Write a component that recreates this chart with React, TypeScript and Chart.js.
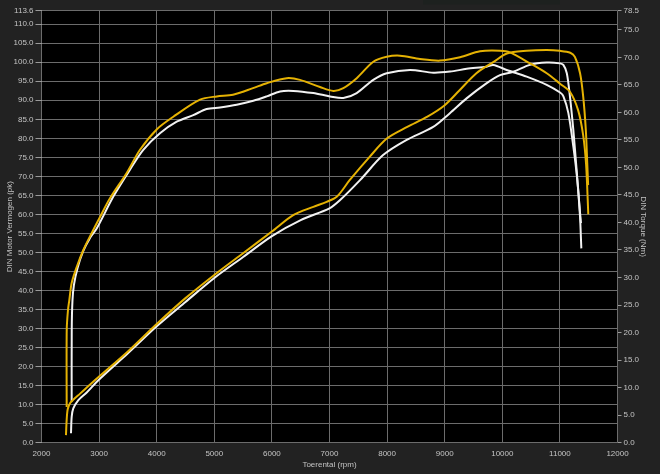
import React, { useEffect, useRef } from "react";
import { Chart, registerables } from "chart.js";

Chart.register(...registerables);

// ---- tick labels ----
const rpmTicks = [2000, 3000, 4000, 5000, 6000, 7000, 8000, 9000, 10000, 11000, 12000];
const powerTicks = [0, 5, 10, 15, 20, 25, 30, 35, 40, 45, 50, 55, 60, 65, 70, 75, 80, 85, 90, 95, 100, 105, 110, 113.6];
const torqueTicks = [0, 5, 10, 15, 20, 25, 30, 35, 40, 45, 50, 55, 60, 65, 70, 75, 78.5];

// ---- yellow run: power (pk, left axis) ----
const yellowPowerRpm = [2425, 2437, 2455, 2500, 2560, 2670, 2800, 3000, 3500, 4000, 4500, 5000, 5500, 6000, 6370, 6720, 6950, 7130, 7350, 7700, 8000, 8350, 8700, 9000, 9250, 9550, 9850, 10080, 10420, 10770, 11000, 11180, 11260, 11350, 11405, 11450, 11475, 11490];
const yellowPowerPk = [2.0, 6.0, 8.8, 10.5, 11.4, 12.9, 14.7, 17.4, 24.0, 31.2, 38.0, 44.1, 49.8, 55.5, 59.8, 62.0, 63.3, 64.7, 69.0, 75.2, 80.0, 83.0, 85.7, 88.7, 92.5, 97.1, 100.1, 102.3, 103.0, 103.2, 103.0, 102.5, 101.4, 97.1, 90.9, 82.2, 73.4, 67.7];

// ---- white run: power (pk, left axis) ----
const whitePowerRpm = [2512, 2524, 2552, 2640, 2785, 3000, 3500, 4000, 4500, 5000, 5500, 6000, 6500, 7000, 7180, 7530, 7930, 8340, 8800, 9090, 9380, 9730, 9960, 10190, 10480, 10770, 11000, 11060, 11120, 11175, 11233, 11290, 11336, 11366];
const whitePowerPk = [2.5, 6.8, 9.0, 11.2, 13.2, 16.6, 23.5, 30.6, 37.0, 43.3, 48.8, 54.3, 58.5, 61.6, 63.7, 69.0, 75.6, 79.6, 83.0, 86.6, 90.5, 94.5, 96.6, 97.5, 99.3, 99.9, 99.7, 99.3, 97.1, 90.9, 82.2, 71.7, 62.9, 57.7];

// ---- yellow run: torque (Nm, right axis) ----
const yellowTorqueRpm = [2437, 2438, 2460, 2483, 2524, 2611, 2726, 2872, 3016, 3189, 3479, 3710, 4000, 4288, 4752, 5042, 5325, 5672, 5910, 6257, 6488, 6835, 7066, 7240, 7472, 7760, 7993, 8224, 8571, 8918, 9266, 9613, 9960, 10133, 10481, 10771, 11003, 11177, 11316, 11403, 11455, 11493];
const yellowTorqueNm = [6.5, 20.5, 24.1, 25.9, 29.0, 31.9, 35.0, 38.1, 41.0, 44.4, 49.0, 53.2, 56.9, 59.2, 62.3, 62.9, 63.2, 64.4, 65.3, 66.2, 65.9, 64.6, 63.9, 64.4, 66.2, 69.2, 70.1, 70.3, 69.7, 69.4, 70.0, 71.1, 71.2, 70.9, 68.9, 67.1, 65.2, 63.7, 60.4, 55.9, 50.5, 41.5];

// ---- white run: torque (Nm, right axis) ----
const whiteTorqueRpm = [2524, 2525, 2538, 2564, 2625, 2720, 2842, 2958, 3247, 3536, 3767, 4057, 4347, 4635, 4868, 5099, 5389, 5677, 5910, 6141, 6372, 6719, 7009, 7240, 7472, 7760, 7993, 8398, 8802, 9092, 9382, 9729, 9844, 10076, 10423, 10771, 11003, 11061, 11146, 11233, 11302, 11349, 11372];
const whiteTorqueNm = [7.5, 20.5, 25.9, 28.7, 31.7, 34.7, 37.2, 38.9, 44.7, 49.6, 53.2, 56.2, 58.3, 59.5, 60.6, 60.9, 61.4, 62.1, 62.9, 63.8, 63.9, 63.5, 62.9, 62.6, 63.5, 65.9, 67.1, 67.7, 67.2, 67.4, 67.9, 68.3, 68.6, 67.7, 66.5, 65.0, 63.6, 62.9, 59.9, 53.8, 47.7, 41.1, 35.3];

const YELLOW = "#e5b203";
const WHITE = "#f2f2f2";
const TEXT = "#c4c4c4";
const GRID = "#6c6c6c";
const FONT = { family: "'Liberation Sans', Arial, sans-serif", size: 8 };

const pts = (xs: number[], ys: number[]) => xs.map((x, i) => ({ x, y: ys[i] }));

const bgPlugin = {
  id: "bg",
  beforeDraw(chart: any) {
    const { ctx, chartArea, width, height } = chart;
    ctx.save();
    ctx.fillStyle = "#222222";
    ctx.fillRect(0, 0, width, height);
    ctx.fillStyle = "#1d211f";
    ctx.fillRect(423, 0, 137, 4.5);
    ctx.fillStyle = "#000000";
    ctx.fillRect(chartArea.left, chartArea.top, chartArea.right - chartArea.left, chartArea.bottom - chartArea.top);
    ctx.restore();
  },
};

export default function App() {
  const ref = useRef<HTMLCanvasElement | null>(null);

  useEffect(() => {
    if (!ref.current) return;
    const ds = (label: string, xs: number[], ys: number[], color: string, axis: string) => ({
      label,
      data: pts(xs, ys),
      yAxisID: axis,
      borderColor: color,
      backgroundColor: color,
      borderWidth: 2,
      pointRadius: 0,
      tension: 0.3,
      fill: false,
    });
    const chart = new Chart(ref.current, {
      type: "line",
      data: {
        datasets: [
          ds("Vermogen geel", yellowPowerRpm, yellowPowerPk, YELLOW, "y"),
          ds("Koppel geel", yellowTorqueRpm, yellowTorqueNm, YELLOW, "y1"),
          ds("Vermogen wit", whitePowerRpm, whitePowerPk, WHITE, "y"),
          ds("Koppel wit", whiteTorqueRpm, whiteTorqueNm, WHITE, "y1"),
        ],
      },
      options: {
        animation: false,
        responsive: false,
        maintainAspectRatio: false,
        layout: { padding: { top: 10.5, left: 0, right: 0, bottom: 0 } },
        plugins: { legend: { display: false }, tooltip: { enabled: false }, title: { display: false } },
        scales: {
          x: {
            type: "linear",
            min: 2000,
            max: 12000,
            afterBuildTicks: (s: any) => { s.ticks = rpmTicks.map((v) => ({ value: v })); },
            afterFit: (s: any) => { s.height = 31.3; },
            ticks: { color: TEXT, font: FONT, padding: 2, maxRotation: 0, autoSkip: false, callback: (v: any) => String(v) },
            grid: { color: GRID, tickLength: 4, tickColor: "transparent" },
            border: { display: false },
            title: { display: true, text: "Toerental (rpm)", color: TEXT, font: FONT, padding: { top: 0, bottom: 4.2 } },
          },
          y: {
            type: "linear",
            position: "left",
            min: 0,
            max: 113.6,
            afterBuildTicks: (s: any) => { s.ticks = powerTicks.map((v) => ({ value: v })); },
            afterFit: (s: any) => { s.width = 41.5; },
            ticks: { color: TEXT, font: FONT, padding: 2, autoSkip: false, callback: (v: any) => Number(v).toFixed(1) },
            grid: { color: GRID, tickLength: 6, tickColor: "#9a9a9a" },
            border: { display: false },
            title: { display: true, text: "DIN Motor Vermogen (pk)", color: TEXT, font: FONT, padding: { top: 4.5, bottom: 0 } },
          },
          y1: {
            type: "linear",
            position: "right",
            min: 0,
            max: 78.5,
            afterBuildTicks: (s: any) => { s.ticks = torqueTicks.map((v) => ({ value: v })); },
            afterFit: (s: any) => { s.width = 42.5; },
            ticks: { color: TEXT, font: FONT, padding: 2, autoSkip: false, callback: (v: any) => Number(v).toFixed(1) },
            grid: { drawOnChartArea: false, tickLength: 4, tickColor: "#9a9a9a" },
            border: { display: false },
            title: { display: true, text: "DIN Torque (Nm)", color: TEXT, font: FONT, padding: { top: 11.9, bottom: 0 } },
          },
        },
      } as any,
      plugins: [bgPlugin],
    });
    return () => chart.destroy();
  }, []);

  return (
    <div style={{ position: "fixed", left: 0, top: 0, width: 660, height: 474, background: "#222222" }}>
      <canvas ref={ref} width={660} height={474} style={{ display: "block", width: 660, height: 474 }} />
    </div>
  );
}
